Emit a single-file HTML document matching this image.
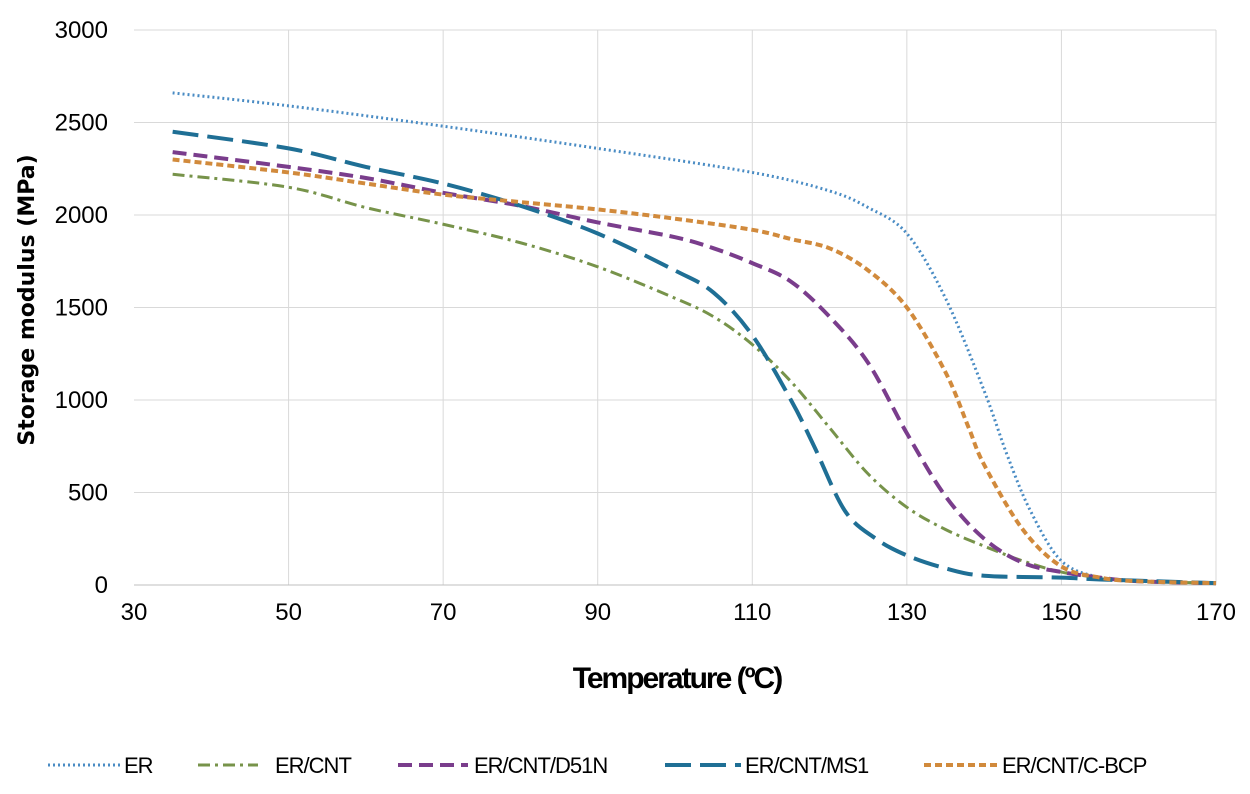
<!DOCTYPE html>
<html><head><meta charset="utf-8"><style>
html,body{margin:0;padding:0;background:#fff;}
svg{display:block;font-family:"Liberation Sans","DejaVu Sans",sans-serif;}
</style></head><body>
<svg id="chart" width="1250" height="794">
<g id="grid"></g>
<g id="ticks"></g>
<g id="series"></g>
<text x="34" y="300" transform="rotate(-90 34 300)" text-anchor="middle" font-size="22" font-weight="bold" font-family="DejaVu Sans, sans-serif" fill="#000">Storage modulus (MPa)</text>
<text x="677" y="688" text-anchor="middle" font-size="30" font-family="Liberation Sans, sans-serif" font-weight="bold" letter-spacing="-2" fill="#000">Temperature (ºC)</text>
<g id="legend"></g>
</svg>
<script>
const xTicks=[30,50,70,90,110,130,150,170];
const yTicks=[0,500,1000,1500,2000,2500,3000];
const seriesNames=["ER","ER/CNT","ER/CNT/D51N","ER/CNT/MS1","ER/CNT/C-BCP"];
const erT=[35,50,70,90,110,120,125,130,135,140,143,146,150,155,160,170];
const erV=[2660,2590,2480,2360,2230,2130,2040,1900,1550,1050,700,400,130,40,20,10];
const cntT=[35,50,60,70,80,90,100,105,110,115,120,125,130,135,140,145,150,155,160,170];
const cntV=[2220,2150,2040,1950,1850,1720,1550,1450,1300,1100,850,600,420,300,210,130,70,40,20,10];
const d51T=[35,50,60,70,80,90,100,105,110,115,120,125,130,135,140,145,150,155,160,170];
const d51V=[2340,2260,2200,2120,2050,1960,1880,1820,1740,1640,1450,1200,820,480,250,120,70,40,20,10];
const ms1T=[35,50,60,70,80,90,100,105,110,115,118,122,126,130,135,140,150,155,170];
const ms1V=[2450,2360,2260,2170,2050,1900,1700,1580,1350,1000,750,400,250,160,90,50,40,30,10];
const bcpT=[35,50,60,70,80,90,100,110,115,120,125,130,135,138,140,145,150,155,160,170];
const bcpV=[2300,2230,2170,2110,2070,2030,1980,1920,1870,1820,1700,1500,1150,850,650,300,100,40,20,10];

const NS="http://www.w3.org/2000/svg";
const X=t=>134+(t-30)*(1082/140);
const Y=v=>585-v*(555/3000);
function mk(tag,attrs,parent){const e=document.createElementNS(NS,tag);for(const k in attrs)e.setAttribute(k,attrs[k]);parent.appendChild(e);return e;}
const grid=document.getElementById('grid'),ticks=document.getElementById('ticks'),ser=document.getElementById('series'),leg=document.getElementById('legend');
xTicks.forEach(t=>{
  if(t>30){const l=mk('line',{x1:X(t),x2:X(t),y1:Y(3000),y2:Y(0),stroke:'#d9d9d9','stroke-width':1},grid);
  
  }
  const tx=mk('text',{x:X(t),y:620,'text-anchor':'middle','font-size':24,fill:'#000'},ticks);tx.textContent=t;
  
  
});
yTicks.forEach(v=>{
  const l=mk('line',{x1:X(30),x2:X(170),y1:Y(v),y2:Y(v),stroke:v===0?'#bfbfbf':'#d9d9d9','stroke-width':1},grid);
  
  
  const tx=mk('text',{x:108,y:Y(v)+8,'text-anchor':'end','font-size':24,fill:'#000'},ticks);tx.textContent=v;
  
  
});
function smooth(T,V){const p=T.map((t,i)=>[X(t),Y(V[i])]);let d=`M${p[0][0]},${p[0][1]}`;
  for(let i=0;i<p.length-1;i++){const p0=p[i-1]||p[i],p1=p[i],p2=p[i+1],p3=p[i+2]||p2;
    const c1=[p1[0]+(p2[0]-p0[0])/6,p1[1]+(p2[1]-p0[1])/6],c2=[p2[0]-(p3[0]-p1[0])/6,p2[1]-(p3[1]-p1[1])/6];
    d+=` C${c1[0]},${c1[1]} ${c2[0]},${c2[1]} ${p2[0]},${p2[1]}`;}return d;}
const styles=[
 {c:'#4a8cc4',w:3,da:'2 3'},
 {c:'#77934a',w:3,da:'12 5 3 5'},
 {c:'#7a3d8c',w:4,da:'14 7'},
 {c:'#1f6f95',w:4,da:'26 9'},
 {c:'#d18a3c',w:4,da:'7 4'}];
const data=[[erT,erV],[cntT,cntV],[d51T,d51V],[ms1T,ms1V],[bcpT,bcpV]];
data.forEach((s,i)=>{const st=styles[i];
  const p=mk('path',{d:smooth(s[0],s[1]),fill:'none',stroke:st.c,'stroke-width':st.w,'stroke-dasharray':st.da},ser);
  
  
});
const legLine=[[48,120],[198,258],[398,468],[665,741],[924,1000]];
const legText=[124,275,474,745,1002];
seriesNames.forEach((n,i)=>{const st=styles[i];
  const g=mk('g',{},leg);
  
  
  mk('line',{x1:legLine[i][0],x2:legLine[i][1],y1:765,y2:765,stroke:st.c,'stroke-width':st.w,'stroke-dasharray':st.da},g);
  const t=mk('text',{x:legText[i],y:773,'font-size':22,fill:'#000','letter-spacing':'-1'},g);t.textContent=n;
});
</script>
</body></html>
